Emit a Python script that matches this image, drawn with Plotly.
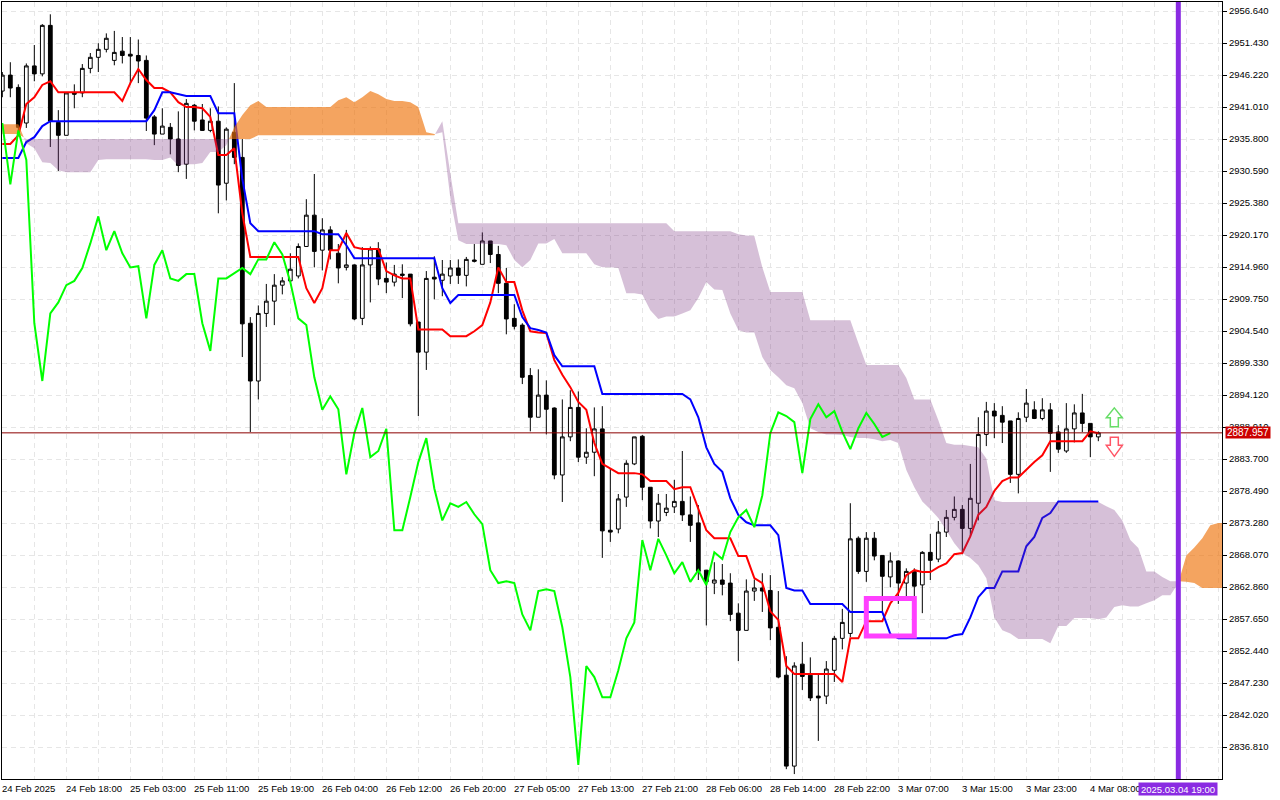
import plotly.graph_objects as go

tick_values = [2956.64, 2951.43, 2946.22, 2941.01, 2935.80, 2930.59, 2925.38, 2920.17,
               2914.96, 2909.75, 2904.54, 2899.33, 2894.12, 2888.91, 2883.70, 2878.49,
               2873.28, 2868.07, 2862.86, 2857.65, 2852.44, 2847.23, 2842.02, 2836.81]
time_labels = ["24 Feb 2025", "24 Feb 18:00", "25 Feb 03:00", "25 Feb 11:00", "25 Feb 19:00",
               "26 Feb 04:00", "26 Feb 12:00", "26 Feb 20:00", "27 Feb 05:00", "27 Feb 13:00",
               "27 Feb 21:00", "28 Feb 06:00", "28 Feb 14:00", "28 Feb 22:00", "3 Mar 07:00",
               "3 Mar 15:00", "3 Mar 23:00", "4 Mar 08:00"]

opens = [2943.6,2946.2,2944.2,2938.4,2947.7,2946.4,2954.3,2938.5,2936.4,2943.3,
         2943.3,2947.3,2949.1,2950.4,2948.6,2950.1,2949.6,2949.4,2948.6,2939.4,
         2936.6,2937.7,2935.8,2931.7,2941.3,2938.9,2937.2,2938.7,2928.6,2936.9,
         2932.8,2905.8,2896.4,2907.4,2909.4,2912.0,2912.7,2913.5,2918.3,2923.4,
         2917.7,2921.0,2917.2,2914.9,2915.3,2906.6,2915.3,2917.9,2913.1,2912.5,
         2913.8,2913.8,2906.0,2901.1,2913.3,2912.8,2913.5,2914.8,2913.6,2916.1,
         2915.4,2919.2,2917.0,2912.3,2906.6,2905.5,2897.3,2890.5,2894.1,2892.0,
         2881.1,2887.3,2892.1,2884.0,2884.8,2888.6,2872.1,2872.3,2877.5,2882.9,
         2887.4,2879.1,2873.6,2875.0,2875.9,2876.8,2874.6,2873.3,2865.6,2863.5,
         2864.0,2863.5,2858.6,2855.8,2862.2,2862.7,2862.3,2856.3,2848.5,2833.7,
         2850.3,2848.5,2845.1,2845.1,2849.3,2854.5,2855.3,2870.8,2865.4,2870.8,
         2868.0,2864.5,2867.1,2863.5,2865.4,2863.2,2868.5,2867.4,2871.8,2874.2,
         2875.5,2872.4,2876.5,2887.7,2891.5,2890.8,2889.9,2881.2,2890.5,2891.7,
         2890.3,2891.7,2888.1,2885.0,2888.6,2891.2,2889.5,2887.3]
highs = [2946.7,2948.3,2944.7,2948.1,2951.1,2954.5,2956.1,2940.5,2943.3,2944.7,
         2948.0,2949.8,2951.4,2953.0,2953.4,2952.4,2952.4,2952.0,2949.4,2939.7,
         2940.8,2938.4,2940.3,2942.3,2941.5,2941.5,2940.8,2941.1,2937.7,2944.9,
         2935.8,2906.8,2908.7,2912.2,2913.8,2913.3,2917.2,2918.8,2926.0,2930.1,
         2922.9,2921.6,2918.7,2921.0,2915.4,2918.2,2918.3,2919.0,2915.7,2915.3,
         2915.4,2913.8,2906.0,2914.3,2916.7,2916.1,2916.1,2916.2,2916.6,2918.7,
         2920.6,2919.2,2918.4,2914.8,2908.9,2905.8,2898.5,2898.3,2896.5,2892.1,
         2893.4,2894.9,2894.7,2888.7,2892.1,2892.3,2882.2,2878.0,2883.5,2887.3,
         2887.6,2879.1,2878.0,2878.0,2880.3,2885.0,2877.6,2876.2,2865.6,2866.9,
         2866.6,2865.1,2860.2,2864.1,2864.1,2865.1,2864.8,2862.2,2851.6,2850.6,
         2853.9,2851.4,2848.7,2850.8,2854.9,2859.3,2876.5,2871.1,2871.8,2871.8,
         2868.0,2868.5,2867.2,2865.9,2865.9,2868.7,2871.5,2873.6,2875.4,2877.6,
         2876.2,2882.9,2890.5,2893.0,2892.8,2892.3,2889.9,2891.3,2895.1,2893.1,
         2893.6,2892.8,2889.2,2892.8,2892.6,2894.3,2889.5,2888.2]
lows = [2942.6,2942.6,2937.1,2937.6,2945.2,2946.0,2934.5,2930.6,2936.4,2940.8,
        2942.6,2946.5,2946.7,2949.9,2947.8,2948.1,2944.7,2944.9,2937.1,2934.8,
        2936.6,2933.3,2930.4,2929.3,2937.2,2937.1,2936.9,2923.7,2925.8,2931.7,
        2900.3,2888.1,2893.4,2905.2,2905.5,2910.5,2912.5,2913.1,2918.3,2914.9,
        2914.4,2916.2,2912.3,2914.4,2906.3,2905.5,2909.2,2912.0,2910.7,2911.8,
        2909.9,2905.3,2890.7,2898.2,2909.7,2910.2,2912.2,2912.2,2911.8,2915.7,
        2915.4,2915.6,2910.7,2904.0,2904.8,2895.9,2888.2,2890.5,2887.7,2880.4,
        2876.7,2886.6,2883.2,2882.9,2880.9,2867.6,2870.2,2871.6,2875.9,2882.7,
        2877.0,2872.4,2871.0,2874.4,2874.9,2873.6,2870.2,2864.0,2856.6,2861.7,
        2861.5,2857.3,2850.8,2855.8,2860.6,2858.8,2854.2,2848.0,2833.2,2832.4,
        2846.1,2844.3,2837.8,2843.8,2847.4,2852.7,2854.7,2865.0,2863.7,2867.2,
        2858.6,2862.8,2860.1,2861.2,2861.2,2858.6,2864.0,2866.9,2871.0,2873.7,
        2868.2,2871.0,2873.7,2885.8,2887.1,2886.3,2879.8,2878.1,2889.7,2890.2,
        2890.0,2881.6,2884.7,2884.7,2886.4,2888.1,2884.0,2886.6]
closes = [2946.2,2944.1,2937.7,2947.7,2946.4,2954.3,2938.7,2936.4,2943.3,2943.1,
          2947.3,2949.1,2950.4,2952.2,2949.9,2949.4,2949.3,2948.5,2939.2,2936.6,
          2937.9,2935.8,2931.5,2941.6,2938.7,2937.2,2938.7,2928.3,2937.4,2932.8,
          2905.7,2896.4,2907.4,2909.4,2912.0,2912.7,2914.6,2918.3,2923.4,2917.5,
          2921.0,2917.7,2914.8,2915.3,2906.5,2915.3,2917.9,2913.0,2912.5,2913.8,
          2913.6,2905.7,2901.1,2913.1,2913.0,2913.8,2914.8,2913.6,2916.2,2915.9,
          2919.2,2917.0,2912.3,2906.5,2905.3,2897.0,2890.5,2894.1,2891.8,2881.1,
          2887.3,2892.1,2884.0,2884.8,2888.6,2872.0,2871.8,2877.2,2883.0,2887.3,
          2879.1,2873.6,2876.5,2875.7,2876.8,2874.6,2872.9,2865.4,2863.7,2864.0,
          2863.3,2858.4,2855.8,2862.2,2862.7,2862.2,2856.2,2848.2,2833.7,2850.0,
          2848.3,2844.8,2844.8,2849.5,2854.5,2857.1,2870.7,2865.4,2870.8,2867.9,
          2864.6,2867.1,2863.5,2865.4,2863.0,2868.5,2867.2,2871.8,2874.2,2875.5,
          2872.4,2877.3,2887.7,2891.5,2890.7,2889.7,2881.2,2890.3,2892.8,2890.3,
          2891.7,2887.9,2885.3,2888.6,2891.2,2889.5,2887.3,2887.957]

tenkan = [2935.0,2935.0,2936.4,2941.5,2942.6,2944.6,2945.2,2943.4,2943.4,2943.4,
          2943.4,2943.4,2943.4,2943.4,2943.4,2942.0,2944.9,2947.2,2945.4,2944.1,
          2944.1,2943.4,2941.8,2941.0,2941.0,2940.8,2939.4,2933.2,2933.2,2934.3,
          2923.7,2916.6,2916.6,2916.6,2916.6,2916.6,2916.6,2916.6,2911.5,2909.1,
          2911.5,2917.7,2917.7,2920.5,2918.2,2917.9,2917.9,2917.9,2914.3,2913.6,
          2913.1,2913.1,2904.8,2904.8,2904.8,2904.8,2903.7,2903.7,2903.7,2904.5,
          2905.5,2909.2,2914.9,2912.5,2912.5,2907.9,2904.5,2904.3,2904.2,2899.8,
          2897.4,2895.4,2893.0,2891.7,2886.3,2882.9,2882.2,2881.4,2881.4,2881.4,
          2881.2,2880.1,2880.1,2880.1,2878.8,2879.1,2879.1,2875.7,2872.1,2870.8,
          2870.8,2870.8,2867.9,2867.9,2864.3,2863.5,2858.9,2857.5,2850.0,2848.7,
          2848.7,2848.7,2848.7,2848.7,2848.7,2847.4,2854.5,2854.5,2857.3,2857.3,
          2857.3,2860.2,2861.9,2864.8,2865.6,2865.3,2865.3,2866.1,2866.7,2868.2,
          2868.4,2871.1,2874.6,2875.9,2878.5,2880.1,2880.7,2880.7,2882.0,2883.2,
          2884.3,2886.6,2886.6,2886.6,2886.6,2886.6,2888.2,2887.9]
kijun = [2932.7,2932.7,2932.7,2935.3,2936.1,2937.9,2938.7,2938.7,2938.7,2938.7,
         2938.7,2938.7,2938.7,2938.7,2938.7,2938.7,2938.7,2938.7,2938.7,2940.5,
         2943.4,2943.4,2943.1,2942.8,2942.8,2942.8,2942.8,2940.0,2940.0,2940.0,
         2929.3,2922.1,2920.8,2920.8,2920.8,2920.8,2920.8,2920.8,2920.8,2920.8,
         2920.3,2920.3,2920.3,2918.5,2916.4,2916.4,2916.4,2916.4,2916.4,2916.4,
         2916.4,2916.4,2916.4,2916.4,2916.4,2911.5,2909.1,2910.4,2910.4,2910.4,
         2910.4,2910.4,2910.4,2910.4,2910.4,2906.8,2905.0,2904.7,2904.3,2900.6,
         2898.8,2898.8,2898.8,2898.8,2898.8,2894.3,2894.3,2894.3,2894.3,2894.3,
         2894.3,2894.3,2894.3,2894.3,2894.3,2894.3,2893.4,2890.5,2885.6,2882.9,
         2881.6,2877.3,2874.6,2873.4,2872.9,2872.9,2872.9,2871.3,2862.7,2862.3,
         2862.3,2860.1,2860.1,2860.1,2860.1,2860.1,2858.8,2858.8,2858.8,2858.8,
         2858.8,2855.2,2854.5,2854.5,2854.5,2854.5,2854.5,2854.5,2854.5,2855.0,
         2855.2,2857.9,2861.2,2862.7,2862.7,2865.4,2865.4,2865.4,2869.5,2871.0,
         2874.1,2874.9,2876.8,2876.8,2876.8,2876.8,2876.8,2876.8]
chikou = [2938.4,2928.4,2937.2,2932.4,2905.8,2896.4,2907.4,2909.2,2912.0,2912.7,
          2914.8,2918.8,2923.2,2917.7,2920.8,2917.2,2914.9,2915.1,2906.6,2915.3,
          2917.7,2913.1,2912.7,2913.8,2913.8,2905.8,2901.3,2913.1,2913.1,2914.0,
          2914.8,2913.8,2916.2,2916.2,2919.0,2917.0,2912.5,2906.6,2905.5,2897.0,
          2891.7,2893.9,2891.8,2881.2,2887.9,2892.0,2884.0,2885.0,2888.6,2872.1,
          2872.1,2877.5,2883.2,2887.1,2878.9,2873.7,2876.5,2875.9,2876.7,2874.7,
          2873.1,2865.6,2863.5,2863.8,2863.5,2858.4,2855.8,2862.2,2862.5,2862.2,
          2856.3,2848.2,2833.9,2850.0,2848.2,2844.9,2844.9,2849.3,2854.5,2857.1,
          2870.5,2865.6,2870.7,2868.0,2865.1,2866.9,2863.7,2865.6,2863.2,2868.5,
          2867.4,2871.8,2874.2,2875.4,2872.6,2877.8,2887.9,2891.3,2890.7,2889.7,
          2881.4,2890.2,2892.6,2890.5,2891.5,2888.1,2885.3,2888.7,2891.2,2889.4,
          2887.3,2887.9]
span_a = [2938.2,2938.2,2938.2,2935.1,2934.3,2932.0,2931.9,2930.7,2930.4,2930.4,
          2930.4,2930.4,2932.4,2932.5,2932.5,2932.5,2932.5,2932.5,2932.5,2932.4,
          2932.4,2932.8,2931.5,2931.7,2931.7,2931.9,2933.7,2933.7,2934.8,2937.7,
          2939.7,2941.3,2942.0,2941.0,2941.0,2941.0,2941.0,2941.0,2941.0,2941.0,
          2941.0,2941.0,2942.1,2942.6,2941.8,2942.6,2943.6,2943.1,2942.3,2942.0,
          2942.0,2941.8,2941.0,2936.9,2936.6,2936.9,2926.2,2919.3,2918.7,2918.7,
          2918.7,2918.7,2918.7,2918.5,2916.1,2914.9,2916.1,2918.8,2918.8,2919.5,
          2917.2,2917.2,2917.2,2917.2,2915.4,2914.9,2914.9,2914.8,2910.7,2910.7,
          2910.5,2907.9,2906.5,2906.9,2906.9,2907.4,2907.9,2909.9,2912.5,2911.3,
          2911.2,2907.4,2904.7,2904.3,2904.3,2900.3,2898.2,2897.0,2895.7,2895.2,
          2892.8,2888.7,2888.1,2887.7,2887.7,2887.6,2887.3,2887.1,2887.1,2886.9,
          2886.6,2886.8,2886.3,2881.9,2879.1,2876.8,2875.5,2874.1,2872.1,2870.0,
          2868.4,2867.6,2866.4,2864.3,2857.9,2855.8,2855.3,2854.4,2854.4,2854.4,
          2854.4,2853.7,2856.5,2856.5,2857.8,2857.8,2857.8,2857.6,2857.9,2859.6,
          2859.9,2859.7,2859.7,2860.2,2860.7,2861.5,2861.5,2863.5,2868.0,2869.3,
          2870.8,2872.9,2873.3,2873.3]
span_b = [2936.6,2936.6,2936.6,2935.8,2935.8,2935.8,2935.8,2935.8,2935.8,2935.8,
          2935.8,2935.8,2935.8,2935.8,2935.8,2935.8,2935.8,2935.8,2935.8,2935.8,
          2935.8,2935.8,2935.8,2935.8,2935.8,2935.8,2935.8,2935.8,2935.8,2935.8,
          2935.8,2935.8,2936.4,2936.4,2936.4,2936.4,2936.4,2936.4,2936.4,2936.4,
          2936.4,2936.4,2936.4,2936.4,2936.4,2936.4,2936.4,2936.4,2936.4,2936.4,
          2936.4,2936.4,2936.4,2936.4,2936.4,2938.7,2930.2,2922.1,2922.1,2922.1,
          2922.1,2922.1,2922.1,2922.1,2922.1,2922.1,2922.1,2922.1,2922.1,2922.1,
          2922.1,2922.1,2922.1,2922.1,2922.1,2922.1,2922.1,2922.1,2922.1,2922.1,
          2922.1,2922.1,2922.1,2922.1,2920.8,2920.8,2920.8,2920.8,2920.8,2920.8,
          2920.8,2920.8,2920.3,2920.1,2920.0,2914.9,2910.9,2910.9,2910.9,2910.9,
          2910.9,2906.3,2906.3,2906.3,2906.3,2906.3,2906.3,2902.6,2899.0,2899.0,
          2899.0,2899.0,2899.0,2896.9,2893.4,2893.4,2893.4,2890.0,2886.3,2886.0,
          2886.0,2885.8,2885.6,2883.8,2877.0,2876.7,2876.7,2876.7,2876.7,2876.7,
          2876.7,2876.7,2876.7,2876.7,2876.7,2876.7,2876.7,2876.7,2876.0,2875.4,
          2873.7,2870.5,2869.2,2865.4,2865.4,2864.5,2863.8,2863.8,2863.7,2863.5,
          2862.7,2862.7,2862.7,2862.7]

last_price = 2887.957
cursor_bar = 147
box_bars = (108, 114)
box_prices = (2854.9, 2861.0)
up_arrow_at = (139, 2890.4)
down_arrow_at = (139, 2885.6)


def cloud_polygons(top, bottom):
    """Closed outlines of the stretches where top is above bottom."""
    polygons, xs, upper, lower = [], [], [], []
    for i in range(len(top)):
        d = top[i] - bottom[i]
        if d >= 0:
            xs.append(i); upper.append(top[i]); lower.append(bottom[i])
        if i + 1 < len(top):
            e = top[i + 1] - bottom[i + 1]
            if (d >= 0) != (e >= 0):
                t = d / (d - e)
                level = bottom[i] + t * (bottom[i + 1] - bottom[i])
                xs.append(i + t); upper.append(level); lower.append(level)
                if d >= 0:
                    polygons.append((xs + xs[::-1], upper + lower[::-1]))
                    xs, upper, lower = [], [], []
    if xs:
        polygons.append((xs + xs[::-1], upper + lower[::-1]))
    return polygons


bars = list(range(len(opens)))
FONT = "Liberation Sans"
fig = go.Figure()
fig.add_trace(go.Candlestick(
    x=bars, open=opens, high=highs, low=lows, close=closes,
    increasing=dict(fillcolor="#ffffff", line=dict(color="#000000", width=1)),
    decreasing=dict(fillcolor="#000000", line=dict(color="#000000", width=1)),
    whiskerwidth=0, showlegend=False, hoverinfo="skip"))
fig.add_trace(go.Scatter(x=bars, y=tenkan, mode="lines", line=dict(color="#ff0000", width=2),
                         showlegend=False, hoverinfo="skip"))
fig.add_trace(go.Scatter(x=bars, y=kijun, mode="lines", line=dict(color="#0000ff", width=2),
                         showlegend=False, hoverinfo="skip"))
for px, py in cloud_polygons(span_b, span_a):
    fig.add_trace(go.Scatter(x=px, y=py, mode="none", fill="toself",
                             fillcolor="rgba(118,45,125,0.3)", showlegend=False, hoverinfo="skip"))
for px, py in cloud_polygons(span_a, span_b):
    fig.add_trace(go.Scatter(x=px, y=py, mode="none", fill="toself",
                             fillcolor="rgba(238,115,11,0.65)", showlegend=False, hoverinfo="skip"))
fig.add_trace(go.Scatter(x=list(range(len(chikou))), y=chikou, mode="lines",
                         line=dict(color="#00ff00", width=2), showlegend=False, hoverinfo="skip"))

annotations = []
for k, label in enumerate(time_labels):
    annotations.append(dict(x=8 * k, xref="x", y=0, yref="paper", text=label, showarrow=False,
                            xanchor="left", yanchor="top", yshift=-2, xshift=-2,
                            font=dict(family=FONT, size=9.5, color="#000000")))
annotations.append(dict(x=cursor_bar, xref="x", y=0, yref="paper", text="2025.03.04 19:00",
                        showarrow=False, xanchor="center", yanchor="top", yshift=-3,
                        width=78, height=12, borderpad=0, bgcolor="#8a2be2",
                        font=dict(family=FONT, size=9.5, color="#ffffff")))
annotations.append(dict(x=1, xref="paper", y=last_price, yref="y", text=f"{last_price:.3f}",
                        showarrow=False, xanchor="left", yanchor="middle", xshift=3,
                        width=44, height=11, borderpad=0, bgcolor="#cc0000",
                        font=dict(family=FONT, size=10, color="#ffffff")))

UP_PATH = "M0,10 L8,0 L4,0 L4,-9 L-4,-9 L-4,0 L-8,0 Z"
DOWN_PATH = "M0,-9 L8,2 L4,2 L4,10 L-4,10 L-4,2 L-8,2 Z"
shapes = [
    dict(type="line", xref="paper", x0=0, x1=1, yref="y", y0=last_price, y1=last_price,
         line=dict(color="#8b0000", width=1)),
    dict(type="line", xref="x", x0=cursor_bar, x1=cursor_bar, yref="paper", y0=0, y1=1,
         line=dict(color="#8a2be2", width=5)),
    dict(type="rect", xref="x", x0=box_bars[0], x1=box_bars[1], yref="y",
         y0=box_prices[0], y1=box_prices[1], line=dict(color="#ff40ff", width=5)),
    dict(type="path", path=UP_PATH, xref="x", yref="y", xsizemode="pixel", ysizemode="pixel",
         xanchor=up_arrow_at[0], yanchor=up_arrow_at[1], fillcolor="#ffffff",
         line=dict(color="#66dd66", width=1.5)),
    dict(type="path", path=DOWN_PATH, xref="x", yref="y", xsizemode="pixel", ysizemode="pixel",
         xanchor=down_arrow_at[0], yanchor=down_arrow_at[1], fillcolor="#ffffff",
         line=dict(color="#ff5566", width=1.5)),
]

fig.update_layout(
    width=1280, height=800, autosize=False,
    margin=dict(l=2, r=58, t=2, b=21, pad=0),
    paper_bgcolor="#ffffff", plot_bgcolor="#ffffff",
    boxgap=0.33, showlegend=False, hovermode=False,
    font=dict(family=FONT, size=10, color="#000000"),
    annotations=annotations, shapes=shapes,
    xaxis=dict(range=[-0.04, 152.46], tick0=0, dtick=4, showticklabels=False, ticks="",
               showgrid=True, gridcolor="#e6e6e6", griddash="5px,4px", gridwidth=1,
               zeroline=False, showline=True, linecolor="#000000", linewidth=1, mirror=True,
               rangeslider=dict(visible=False), fixedrange=True),
    yaxis=dict(range=[2831.60, 2958.105], side="right", tickmode="array",
               tickvals=tick_values, ticktext=[f"{v:.3f}" for v in tick_values],
               ticks="outside", ticklen=4, tickcolor="#000000", tickwidth=1,
               tickfont=dict(family=FONT, size=9.5, color="#000000"),
               showgrid=True, gridcolor="#e6e6e6", griddash="5px,4px", gridwidth=1,
               zeroline=False, showline=True, linecolor="#000000", linewidth=1, mirror=True,
               fixedrange=True),
)

fig.write_html("out.html", config=dict(displayModeBar=False),
               post_script="document.body.style.margin='0';document.body.style.overflow='hidden';")
